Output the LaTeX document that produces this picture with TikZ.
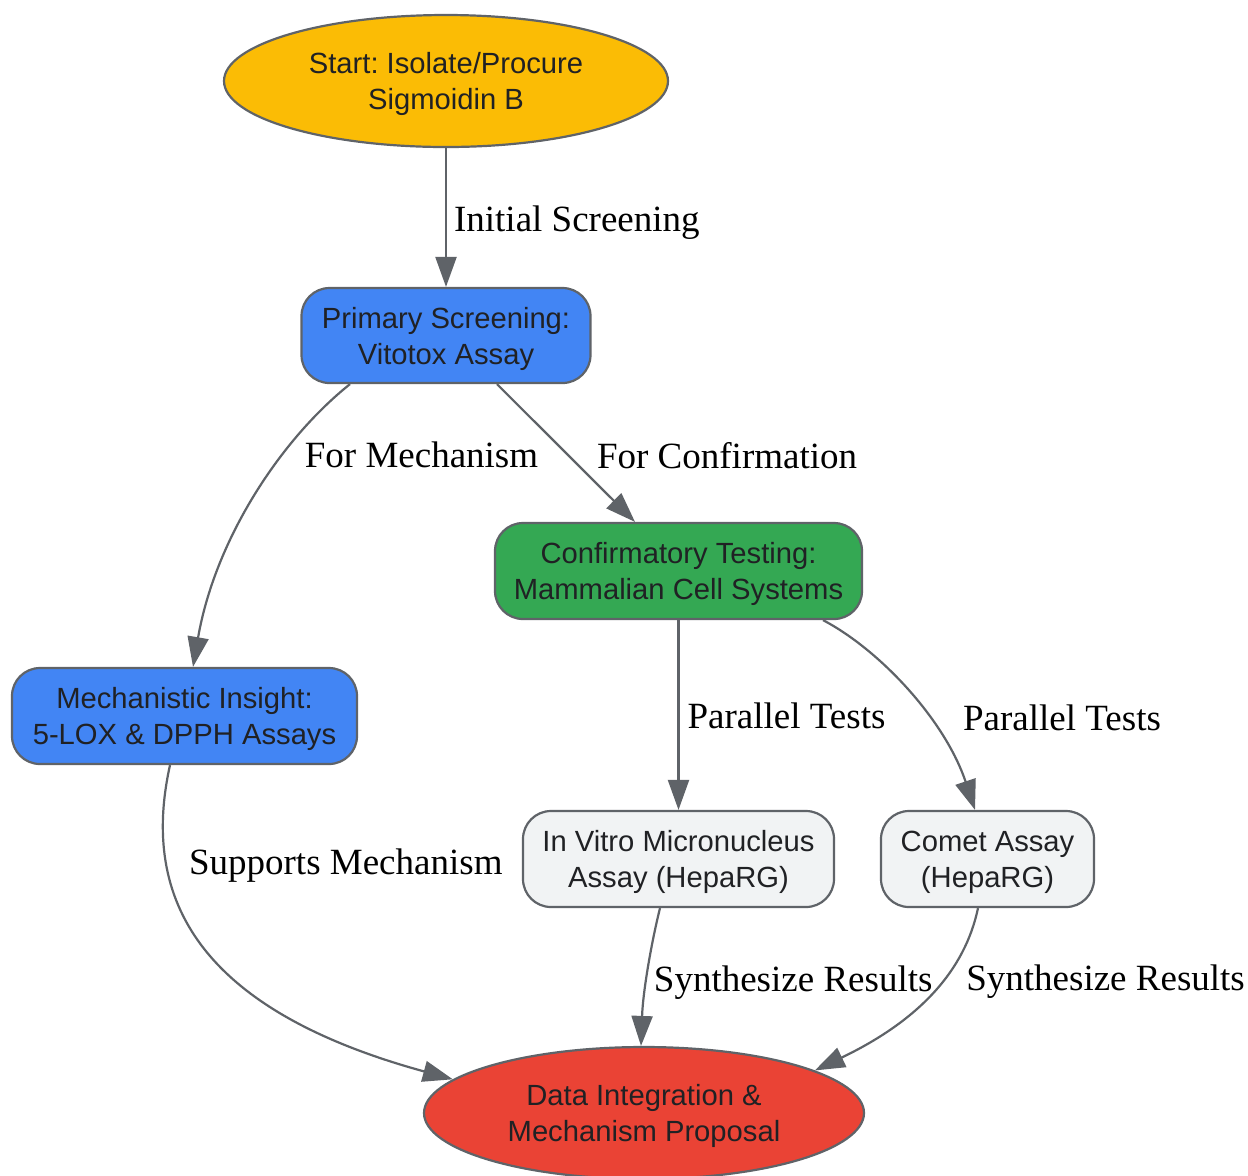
\documentclass[tikz,border=0pt]{standalone}
\usepackage{fontspec}
\setmainfont{Liberation Serif}
\newfontfamily\boxfont{Liberation Sans}
\usetikzlibrary{arrows.meta,shapes.geometric}
\definecolor{gline}{HTML}{5F6368}
\definecolor{ink}{HTML}{202124}
\definecolor{cyell}{HTML}{FBBC05}
\definecolor{cblue}{HTML}{4285F4}
\definecolor{cgreen}{HTML}{34A853}
\definecolor{cred}{HTML}{EA4335}
\definecolor{cgrey}{HTML}{F1F3F4}
\frenchspacing

\begin{document}
\begin{tikzpicture}[x=0.5pt,y=-0.5pt,
  box/.style={draw=gline,line width=1.1pt,rounded corners=14pt,minimum height=48pt,inner sep=0pt,align=center,text=ink,font=\boxfont\fontsize{14.6}{18}\selectfont,execute at begin node={\rule{0pt}{32pt}}},
  oval/.style={ellipse,draw=gline,line width=1.1pt,minimum width=221pt,minimum height=66pt,inner sep=0pt,align=center,text=ink,font=\boxfont\fontsize{14.6}{18}\selectfont,execute at begin node={\rule{0pt}{32pt}}},
  flow/.style={draw=gline,line width=1.1pt,-{Triangle[length=15pt,width=10.5pt]}},
  lbl/.style={anchor=west,inner sep=0pt,text height=12.5pt,text depth=4pt,yshift=-2.5pt,text=black,font=\fontsize{18.5}{22}\selectfont}]
\useasboundingbox (0,0) rectangle (1248,1175);
\node[oval,fill=cyell,minimum width=222pt] (start) at (446,81) {Start: Isolate/Procure\\Sigmoidin B};
\node[box,fill=cblue,minimum width=144.5pt,minimum height=47.5pt] (prim) at (446,335.5) {Primary Screening:\\Vitotox Assay};
\node[box,fill=cgreen,minimum width=183.5pt] (conf) at (678.5,571) {Confirmatory Testing:\\Mammalian Cell Systems};
\node[box,fill=cblue,minimum width=172.5pt] (mech) at (184.5,716) {Mechanistic Insight:\\5-LOX \& DPPH Assays};
\node[box,fill=cgrey,minimum width=155.5pt] (micro) at (678.5,859) {In Vitro Micronucleus\\Assay (HepaRG)};
\node[box,fill=cgrey,minimum width=106.5pt] (comet) at (987.5,859) {Comet Assay\\(HepaRG)};
\node[oval,fill=cred,minimum width=220pt] (data) at (644,1113) {Data Integration \&\\Mechanism Proposal};
\draw[flow] (start) -- (prim) node[lbl,midway,xshift=3.5pt] {Initial Screening};
\draw[flow] ([xshift=25.5pt]prim.south) -- ([xshift=-21.75pt]conf.north) node[lbl,pos=0.518,xshift=13.75pt] {For Confirmation};
\draw[flow] (conf) -- (micro) node[lbl,midway,xshift=4pt] {Parallel Tests};
\draw[flow] ([xshift=-48pt]prim.south) .. controls (280,440) and (215,540) .. ([xshift=4.25pt]mech.north)
  node[lbl,pos=0.335,xshift=10.5pt] {For Mechanism};
\draw[flow] ([xshift=72.25pt]conf.south) .. controls (880,650) and (945,720) .. ([xshift=-6.25pt]comet.north)
  node[lbl,pos=0.62,xshift=17pt] {Parallel Tests};
\draw[flow] ([xshift=-7.25pt]mech.south) .. controls (140,900) and (200,1010) .. (data.170)
  node[lbl,pos=0.25,xshift=11pt] {Supports Mechanism};
\draw[flow] ([xshift=-9.25pt]micro.south) .. controls (652,940) and (643,990) .. ([xshift=-1.5pt]data.north)
  node[lbl,pos=0.57,xshift=3pt] {Synthesize Results};
\draw[flow] ([xshift=-4.75pt]comet.south) .. controls (965,970) and (920,1020) .. (data.14)
  node[lbl,pos=0.4,xshift=10pt] {Synthesize Results};
\end{tikzpicture}
\end{document}
